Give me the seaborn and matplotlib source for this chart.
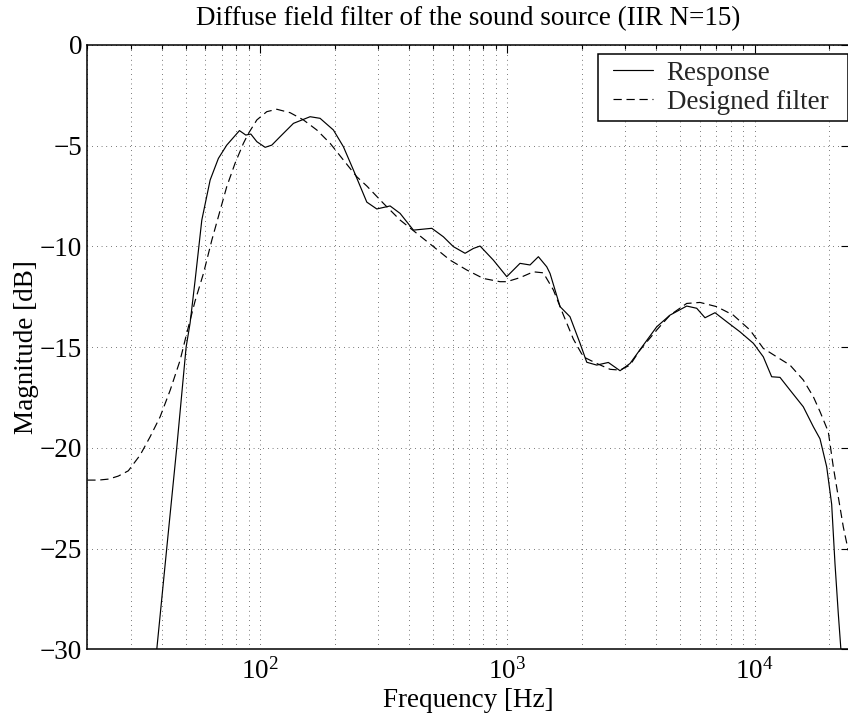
import matplotlib
matplotlib.use("Agg")
import matplotlib.pyplot as plt
import seaborn as sns
import numpy as np
import pandas as pd
from matplotlib.ticker import LogLocator, NullFormatter, NullLocator, FixedLocator, FuncFormatter
from matplotlib.legend_handler import HandlerLine2D

# ---- data ----
resp_freq = [35.9, 38.2, 41.9, 46.0, 50.2, 52.1, 54.6, 58.1, 62.8, 67.8, 73.3, 82.5, 87.5, 91.7,
             97.0, 104.8, 111.5, 120.5, 136.4, 159.3, 174.8, 197.9, 217.2, 238.5, 270.1, 296.4,
             335.5, 368.3, 416.8, 494.8, 551.0, 604.8, 674.5, 728.7, 775.6, 877.9, 994.5, 1125,
             1235, 1335, 1443, 1488, 1634, 1792, 1968, 2095, 2298, 2561, 2856, 3135, 3548, 4019,
             4549, 5314, 5833, 6301, 6918, 7715, 8730, 9887, 10844, 11724, 12668, 13903, 15737,
             17280, 18388, 19569, 20500, 21140, 21800, 22300, 23210]
resp_db = [-35.5, -30.0, -25.0, -20.0, -15.0, -13.8, -11.67, -8.69, -6.70, -5.63, -4.97, -4.25,
           -4.47, -4.42, -4.80, -5.08, -4.97, -4.55, -3.89, -3.56, -3.64, -4.22, -5.05, -6.21,
           -7.80, -8.14, -7.99, -8.36, -9.19, -9.10, -9.52, -10.01, -10.34, -10.10, -9.98, -10.68,
           -11.50, -10.84, -10.92, -10.51, -11.01, -11.34, -12.99, -13.49, -14.81, -15.75, -15.89,
           -15.76, -16.17, -15.81, -14.90, -13.99, -13.41, -12.96, -13.07, -13.54, -13.29, -13.74,
           -14.24, -14.81, -15.48, -16.47, -16.50, -17.13, -17.96, -18.95, -19.55, -20.94, -22.8,
           -25.74, -28.22, -29.88, -33.0]

filt_freq = [20.0, 22.2, 24.4, 26.7, 29.3, 32.7, 35.9, 39.4, 43.3, 47.5, 50.5, 54.6, 59.0, 63.8,
             67.8, 73.3, 79.2, 85.6, 89.7, 97.0, 106.4, 116.8, 132.2, 149.7, 169.6, 191.9, 217.2,
             246.0, 270.1, 315.2, 368.3, 430.1, 502.3, 586.6, 685.3, 799.8, 934.2, 994.5, 1125,
             1274, 1398, 1535, 1685, 1849, 2029, 2298, 2602, 2856, 3135, 3440, 4019, 4549, 5314,
             6015, 7026, 8200, 9581, 10844, 12285, 13903, 15737, 17280, 18388, 19866, 20810,
             21800, 22840, 23930]
filt_db = [-21.6, -21.6, -21.55, -21.4, -21.14, -20.36, -19.45, -18.46, -17.13, -15.64, -14.31,
           -12.70, -11.34, -9.68, -8.52, -7.03, -5.87, -4.88, -4.39, -3.72, -3.31, -3.19, -3.36,
           -3.72, -4.22, -4.88, -5.71, -6.54, -7.0, -7.86, -8.69, -9.35, -10.01, -10.68, -11.17,
           -11.59, -11.75, -11.75, -11.55, -11.26, -11.31, -12.16, -13.40, -14.60, -15.48, -15.81,
           -16.10, -16.14, -15.89, -15.14, -14.15, -13.41, -12.83, -12.78, -12.99, -13.41, -14.15,
           -15.06, -15.48, -15.89, -16.63, -17.46, -18.2, -19.2, -20.94, -22.43, -23.92, -25.1]

series_labels = ["Response", "Designed filter"]
y_ticks = [0, -5, -10, -15, -20, -25, -30]
x_major = [100, 1000, 10000]
title = "Diffuse field filter of the sound source (IIR N=15)"
xlabel = "Frequency [Hz]"
ylabel = "Magnitude [dB]"

# ---- style ----
sns.set_theme(style="white")
FS = 19.5
plt.rcParams["font.family"] = ["Liberation Serif", "DejaVu Serif"]
plt.rcParams["mathtext.fontset"] = "custom"
plt.rcParams["mathtext.rm"] = "Liberation Serif"
plt.rcParams["mathtext.it"] = "Liberation Serif:italic"
plt.rcParams["axes.unicode_minus"] = True

W, H = 848, 722
fig = plt.figure(figsize=(W / 100, H / 100), dpi=100)
fig.patch.set_facecolor("white")
left, right, top, bottom = 87.3, 848.6, 45.0, 649.3
ax = fig.add_axes([left / W, 1 - bottom / H, (right - left) / W, (bottom - top) / H])
ax.set_facecolor("white")

LW = 0.85
DASH = (7.0, 4.0)
df_r = pd.DataFrame({"f": resp_freq, "db": resp_db})
df_f = pd.DataFrame({"f": filt_freq, "db": filt_db})
sns.lineplot(data=df_r, x="f", y="db", ax=ax, color="black", lw=LW,
             estimator=None, sort=False, label=series_labels[0])
sns.lineplot(data=df_f, x="f", y="db", ax=ax, color="black", lw=LW,
             estimator=None, sort=False, label=series_labels[1])
ax.lines[1].set_dashes(DASH)

ax.set_xscale("log")
ax.set_xlim(20, 24000)
ax.set_ylim(-30, 0)

ax.xaxis.set_major_locator(FixedLocator(x_major))
ax.xaxis.set_major_formatter(FuncFormatter(lambda v, p: r"$10^{%d}$" % int(round(np.log10(v)))))
ax.xaxis.set_minor_locator(LogLocator(base=10, subs=np.arange(2, 10), numticks=20))
ax.xaxis.set_minor_formatter(NullFormatter())
ax.yaxis.set_major_locator(FixedLocator(y_ticks))
ax.yaxis.set_major_formatter(FuncFormatter(lambda v, p: ("%d" % v).replace("-", "\u2212")))
ax.yaxis.set_minor_locator(NullLocator())

grid_kw = dict(color="black", lw=0.6, linestyle=(0, (0.7, 5.0)))
ax.grid(True, which="major", axis="both", **grid_kw)
ax.grid(True, which="minor", axis="x", **grid_kw)

for s in ax.spines.values():
    s.set_color("black")
    s.set_linewidth(1.1)

ax.tick_params(which="both", direction="in", top=True, right=True, colors="black",
               labelsize=FS, width=0.8)
ax.tick_params(which="major", length=5.5)
ax.tick_params(which="minor", length=3.0)
ax.tick_params(axis="y", pad=3.6)
ax.tick_params(axis="x", pad=6.5)

ax.set_title(title, fontsize=FS, pad=14.4, color="black")
ax.set_xlabel(xlabel, fontsize=FS, color="black")
ax.set_ylabel(ylabel, fontsize=FS, color="black")
ax.xaxis.set_label_coords(0.5, (bottom - 688) / (bottom - top))
ax.yaxis.set_label_coords((39 - left) / (right - left), 0.5)

# legend box: x 597.7..847.8, y 54..119 (pixels)
handles, labels = ax.get_legend_handles_labels()
leg = ax.legend(handles, labels, loc="upper left",
                bbox_to_anchor=(597.7 / W, 1 - 119 / H, (847.8 - 597.7) / W, 65 / H),
                bbox_transform=fig.transFigure, mode="expand", borderaxespad=0,
                fontsize=FS, frameon=True, fancybox=False, framealpha=1, edgecolor="black",
                handlelength=1.8, handletextpad=0.5, borderpad=0.25, labelspacing=0.14,
                handler_map={h: HandlerLine2D(xpad=0.3) for h in handles})
leg.get_frame().set_linewidth(1.1)
leg.get_lines()[1].set_dashes(DASH)

fig.savefig("out.png", dpi=100)
